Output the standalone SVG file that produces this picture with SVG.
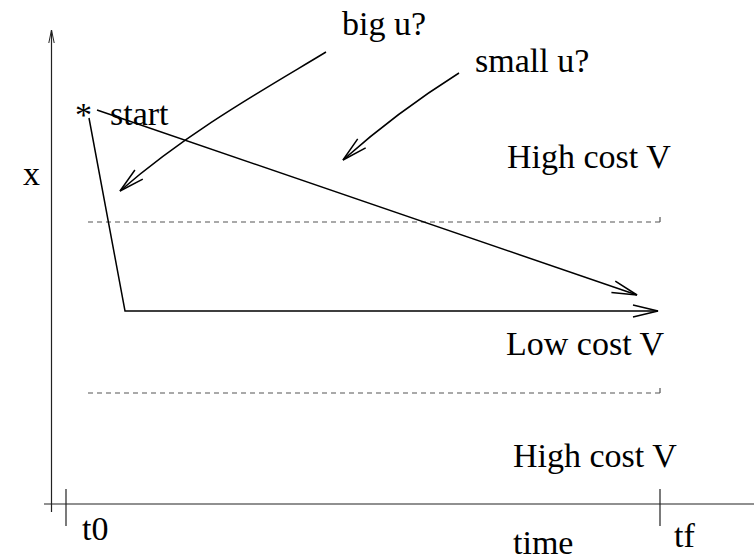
<svg xmlns="http://www.w3.org/2000/svg" width="754" height="558" viewBox="0 0 754 558">
<style>
text{font-family:"Liberation Serif","Times New Roman",serif;font-size:34px;fill:#000}
.ln{fill:none;stroke:#000;stroke-width:1.5}
.ax{fill:none;stroke:#222;stroke-width:1.2}
.dash{fill:none;stroke:#555;stroke-width:1.2;stroke-dasharray:5 4}
</style>
<defs>
<marker id="arr" markerUnits="userSpaceOnUse" markerWidth="30" markerHeight="16" viewBox="-27 -8 30 16" refX="0" refY="0" orient="auto">
<path d="M-25,-6 L0,0 L-25,6" fill="none" stroke="#000" stroke-width="1.5"/>
</marker>
<marker id="arrs" markerUnits="userSpaceOnUse" markerWidth="16" markerHeight="8" viewBox="-14 -4 16 8" refX="0" refY="0" orient="auto">
<path d="M-13,-2.7 L0,0 L-13,2.7" fill="none" stroke="#222" stroke-width="1"/>
</marker>
</defs>
<g id="axes">
<line class="ax" x1="51.5" y1="512" x2="51.5" y2="30" marker-end="url(#arrs)"/>
<line class="ax" x1="44" y1="504" x2="754" y2="504"/>
<line class="ax" x1="66" y1="489" x2="66" y2="526"/>
<line class="ax" x1="660" y1="489" x2="660" y2="526"/>
</g>
<g id="bands">
<path class="dash" d="M88,222 H660"/>
<path class="ax" d="M660,222 V217" style="stroke:#555"/>
<path class="dash" d="M88,393 H660"/>
<path class="ax" d="M660,393 V388" style="stroke:#555"/>
</g>
<g id="connectors">
<path class="ln" d="M89,118 L125,311 H658" marker-end="url(#arr)"/>
<path class="ln" d="M97,110 L637,295" marker-end="url(#arr)"/>
<path class="ln" d="M326,52 C270,86 190,130 120,191" marker-end="url(#arr)"/>
<path class="ln" d="M459,73 Q397,112 343,160" marker-end="url(#arr)"/>
</g>
<g id="labels">
<text x="75" y="126">*</text>
<text x="110" y="125">start</text>
<text x="342" y="35">big u?</text>
<text x="475" y="72">small u?</text>
<text x="507" y="168">High cost V</text>
<text x="506" y="355">Low cost V</text>
<text x="513" y="467">High cost V</text>
<text x="23" y="185">x</text>
<text x="82" y="540">t0</text>
<text x="513" y="554">time</text>
<text x="674" y="547">tf</text>
</g>
</svg>
